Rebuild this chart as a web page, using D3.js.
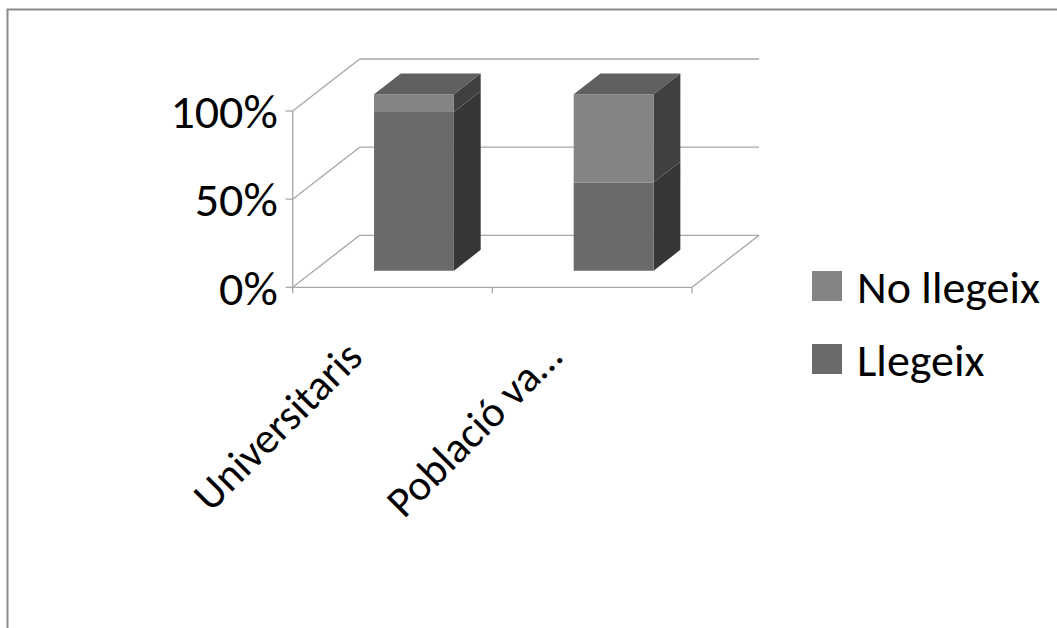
<!DOCTYPE html>
<html>
<head>
<meta charset="utf-8">
<script src="https://cdn.jsdelivr.net/npm/d3@7"></script>
<style>
    body { margin: 0; background: #fff; }
    text { font-family: Carlito, Calibri, Lato, sans-serif; fill: #000; }
</style>
</head>
<body>
<svg id="chart"></svg>
<script>
// Data
const categories = ["Universitaris", "Població va…"];
const seriesNames = ["Llegeix", "No llegeix"];
const llegeix = [0.9, 0.5];
const noLlegeix = [0.1, 0.5];
const yTicks = [0, 0.5, 1];
const yTickLabels = ["0%", "50%", "100%"];

const width = 1057;
const height = 628;

const svg = d3.select("#chart")
    .attr("width", width)
    .attr("height", height);

// Front plane of the 3D box and the offset to the back wall
const plot = { left: 292.7, right: 692, top: 111, bottom: 287.3 };
const depth = { dx: 67, dy: -52 };
const barZ = [0.32, 0.72];

const x = d3.scaleBand().domain(categories).range([plot.left, plot.right]);
const y = d3.scaleLinear().domain([0, 1]).range([plot.bottom, plot.top]);
const fill = d3.scaleOrdinal().domain(seriesNames).range(["#6a6a6a", "#848484"]);
const sideFill = d3.scaleOrdinal().domain(seriesNames).range(["#363636", "#404040"]);
const topFill = "#606060";
const gridColor = "#a6a6a6";

const pt = (px, py, z) => [px + depth.dx * z, py + depth.dy * z];
const line = d3.line();

// Chart border
svg.append("rect")
    .attr("x", 7.5).attr("y", 9.5)
    .attr("width", width + 20).attr("height", height + 20)
    .attr("fill", "none")
    .attr("stroke", "#8a8a8a")
    .attr("stroke-width", 2);

const grid = svg.append("g")
    .attr("fill", "none")
    .attr("stroke", gridColor)
    .attr("stroke-width", 1.3);

// Back wall and left wall gridlines
yTicks.forEach(t => {
    grid.append("path").attr("d", line([[plot.left, y(t)], pt(plot.left, y(t), 1)]));
    grid.append("path").attr("d", line([pt(plot.left, y(t), 1), pt(plot.right, y(t), 1)]));
});
// Floor right edge
grid.append("path").attr("d", line([[plot.right, y(0)], pt(plot.right, y(0), 1)]));

// Axes
grid.append("path").attr("d", line([[plot.left, y(0)], [plot.right, y(0)]]));
grid.append("path").attr("d", line([[plot.left, y(0)], [plot.left, y(1)]]));
yTicks.forEach(t => {
    grid.append("path").attr("d", line([[plot.left - 7, y(t)], [plot.left, y(t)]]));
});
const catEdges = categories.map(c => x(c)).concat([plot.right]);
catEdges.forEach(e => {
    grid.append("path").attr("d", line([[e, y(0)], [e, y(0) + 6]]));
});

// Y labels
svg.append("g").selectAll("text")
    .data(yTicks)
    .join("text")
    .attr("x", plot.left - 15)
    .attr("y", d => y(d))
    .attr("dy", "0.36em")
    .attr("text-anchor", "end")
    .attr("font-size", 48)
    .text((d, i) => yTickLabels[i]);

// Stacked 3D bars
const stackData = categories.map((c, i) => ({ cat: c, "Llegeix": llegeix[i], "No llegeix": noLlegeix[i] }));
const stacked = d3.stack().keys(seriesNames)(stackData);

const barW = x.bandwidth() * 0.4;
const bars = svg.append("g");

categories.forEach((c, i) => {
    const x0 = x(c) + (x.bandwidth() - barW) / 2;
    const x1 = x0 + barW;
    stacked.forEach((s, si) => {
        const v0 = s[i][0], v1 = s[i][1];
        if (v1 - v0 <= 0) return;
        const yb = y(v0), yt = y(v1);
        // side face
        bars.append("path")
            .attr("d", line([pt(x1, yb, barZ[0]), pt(x1, yt, barZ[0]), pt(x1, yt, barZ[1]), pt(x1, yb, barZ[1])]) + "Z")
            .attr("fill", sideFill(s.key));
        // front face
        bars.append("path")
            .attr("d", line([pt(x0, yb, barZ[0]), pt(x1, yb, barZ[0]), pt(x1, yt, barZ[0]), pt(x0, yt, barZ[0])]) + "Z")
            .attr("fill", fill(s.key));
        // top face on the last segment
        if (si === stacked.length - 1) {
            bars.append("path")
                .attr("d", line([pt(x0, yt, barZ[0]), pt(x1, yt, barZ[0]), pt(x1, yt, barZ[1]), pt(x0, yt, barZ[1])]) + "Z")
                .attr("fill", topFill);
        }
    });
});

// Category labels, rotated
svg.append("g").selectAll("text")
    .data(categories)
    .join("text")
    .attr("text-anchor", "end")
    .attr("font-size", 43)
    .attr("transform", d => {
        const cx = x(d) + x.bandwidth() / 2 - 28;
        const cy = y(0) + 72;
        return `translate(${cx},${cy}) rotate(-45)`;
    })
    .text(d => d);

// Legend
const legendItems = seriesNames.slice().reverse();
const legend = svg.append("g")
    .selectAll("g")
    .data(legendItems)
    .join("g")
    .attr("transform", (d, i) => `translate(812, ${286 + i * 73})`);

legend.append("rect")
    .attr("x", 0).attr("y", -15)
    .attr("width", 30).attr("height", 30)
    .attr("fill", d => fill(d));

legend.append("text")
    .attr("x", 45)
    .attr("dy", "0.36em")
    .attr("font-size", 46)
    .text(d => d);
</script>
</body>
</html>
